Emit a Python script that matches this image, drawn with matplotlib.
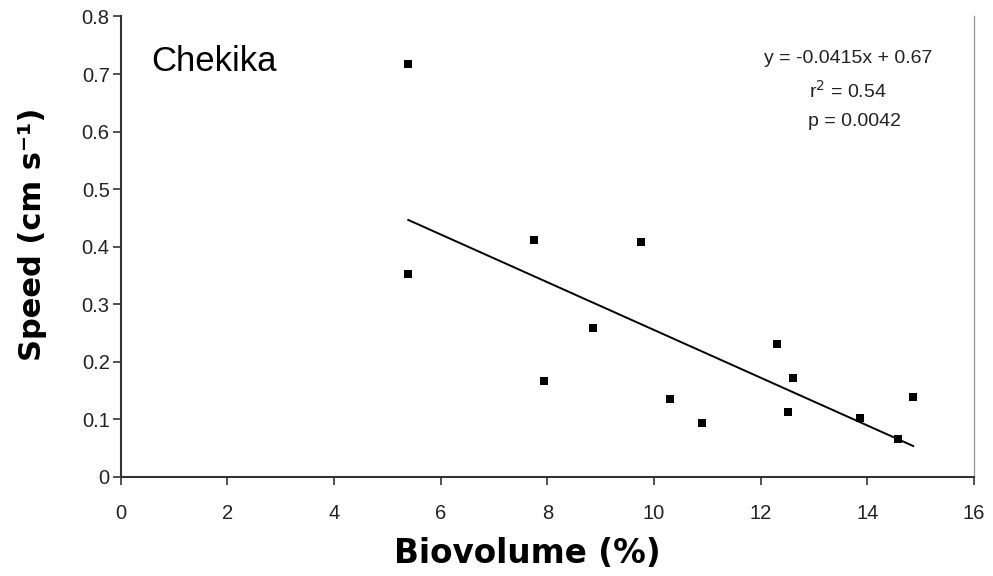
import numpy as np
import matplotlib.pyplot as plt

## Dane (Chekika)
biovolume = [5.39, 5.39, 7.74, 9.75, 8.85, 7.93, 10.29, 12.31, 12.60, 10.89, 12.51, 13.87, 14.86, 14.57]
speed = [0.718, 0.352, 0.411, 0.408, 0.259, 0.166, 0.135, 0.231, 0.172, 0.093, 0.113, 0.102, 0.138, 0.066]

## Parametry regresji z opisu na wykresie
slope = -0.0415
intercept = 0.67
r2_text = '0.54'
p_text = '0.0042'

x_ticks = [0, 2, 4, 6, 8, 10, 12, 14, 16]
y_ticks = [0, 0.1, 0.2, 0.3, 0.4, 0.5, 0.6, 0.7, 0.8]
y_tick_labels = ['0', '0.1', '0.2', '0.3', '0.4', '0.5', '0.6', '0.7', '0.8']

plt.rcParams['font.family'] = ['Liberation Sans', 'DejaVu Sans']

fig = plt.figure(figsize=(9.93, 5.76), dpi=100)
ax = fig.add_axes([0.1217, 0.1724, 0.8592, 0.799])

## Punkty i linia trendu
ax.plot(biovolume, speed, linestyle='none', marker='s', markersize=6,
        color='black', markeredgewidth=0)
xl = np.array([min(biovolume), max(biovolume)])
ax.plot(xl, slope * xl + intercept, color='black', linewidth=1.4)

ax.set_xlim(0, 16)
ax.set_ylim(0, 0.8)
ax.set_xticks(x_ticks)
ax.set_yticks(y_ticks)
ax.set_yticklabels(y_tick_labels)
ax.tick_params(direction='out', length=6, width=1.2, color='#333333',
               labelsize=14.5, labelcolor='#222222')
ax.tick_params(axis='x', pad=14)
ax.tick_params(axis='y', pad=2)

ax.spines['top'].set_visible(False)
ax.spines['left'].set_color('#333333')
ax.spines['bottom'].set_color('#333333')
ax.spines['left'].set_linewidth(1.5)
ax.spines['bottom'].set_linewidth(1.5)
ax.spines['right'].set_color('#999999')
ax.spines['right'].set_linewidth(1.0)

ax.set_xlabel('Biovolume (%)', fontsize=23.5, fontweight='bold',
              family='DejaVu Sans')
ax.set_ylabel('Speed (cm s⁻¹)', fontsize=22, fontweight='bold',
              family='DejaVu Sans')
ax.xaxis.label.set_va('center')
ax.yaxis.label.set_va('center')
ax.xaxis.set_label_coords(0.476, -0.166)
ax.yaxis.set_label_coords(-0.104, 0.527)

ax.text(0.036, 0.882, 'Chekika', transform=ax.transAxes, fontsize=25,
        va='baseline', ha='left')

ax.text(0.852, 0.908, f'y = {slope}x + {intercept}', transform=ax.transAxes,
        fontsize=14, ha='center', va='center', color='#222222')
ax.text(0.852, 0.838, f'r$^2$ = {r2_text}', transform=ax.transAxes,
        fontsize=14, ha='center', va='center', color='#222222')
ax.text(0.86, 0.771, f'p = {p_text}', transform=ax.transAxes,
        fontsize=14, ha='center', va='center', color='#222222')

plt.savefig('out.png', dpi=100)
